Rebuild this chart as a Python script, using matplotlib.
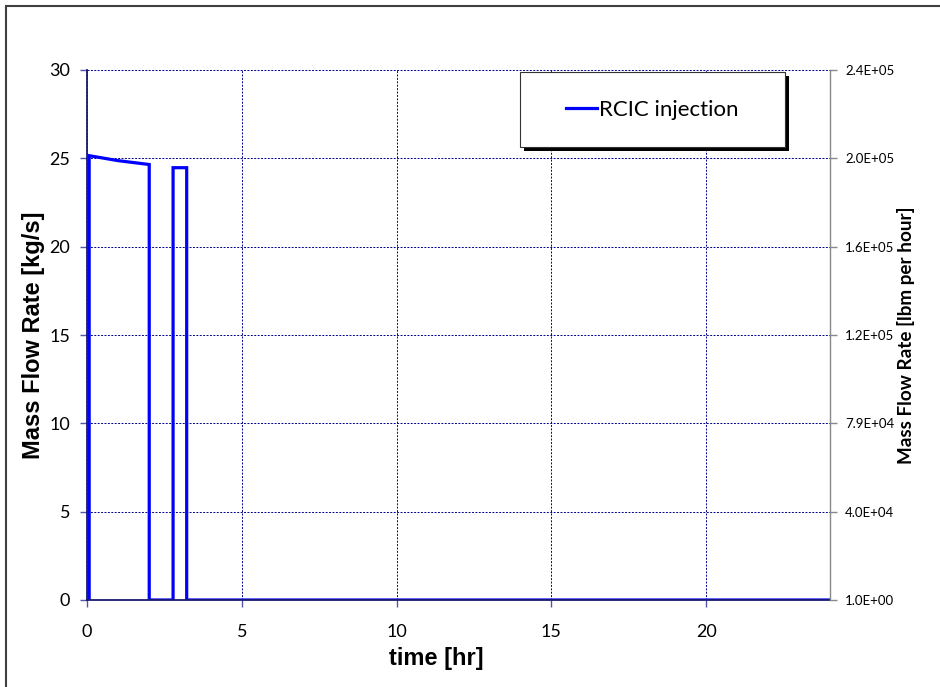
import matplotlib
matplotlib.use("Agg")
import matplotlib.pyplot as plt
from matplotlib.patches import Rectangle

plt.rcParams['font.family'] = ['Lato', 'DejaVu Sans']

# RCIC injection flow history
time_hr = [0.0, 0.07, 0.07, 1.0, 2.01, 2.01, 2.78, 2.78, 3.22, 3.22, 24.0]
flow_kgs = [0.0, 0.0, 25.15, 24.87, 24.65, 0.0, 0.0, 24.47, 24.47, 0.0, 0.0]

x_ticks = [0, 5, 10, 15, 20]
y_ticks = [0, 5, 10, 15, 20, 25, 30]
right_tick_labels = ['1.0E+00', '4.0E+04', '7.9E+04', '1.2E+05',
                     '1.6E+05', '2.0E+05', '2.4E+05']

W, H = 940, 687
fig = plt.figure(figsize=(W / 100, H / 100), dpi=100)

# outer chart frame
fig.patches.append(Rectangle((6 / W, -0.1), 1.2, 1 - 6 / H + 0.1,
                             transform=fig.transFigure, fill=False,
                             edgecolor='#404040', linewidth=1.5))

ax = fig.add_axes([87 / W, 1 - 600 / H, 743 / W, 530 / H])
ax.plot(time_hr, flow_kgs, color='#0000ff', linewidth=2.3,
        label='RCIC injection', solid_joinstyle='miter')

ax.set_xlim(0, 24)
ax.set_ylim(0, 30)
ax.set_xticks(x_ticks)
ax.set_yticks(y_ticks)
ax.grid(True, color='#00008b', linestyle=(0, (2, 1.5)), linewidth=0.7)
ax.set_axisbelow(True)

for s in ['top', 'right']:
    ax.spines[s].set_visible(False)
for s in ['left', 'bottom']:
    ax.spines[s].set_color('#1a1a6e')
    ax.spines[s].set_linewidth(1.3)

ax.tick_params(axis='both', direction='out', length=5, width=1,
               color='#5555aa', labelsize=13, labelcolor='black')
ax.tick_params(axis='y', pad=7)
ax.tick_params(axis='x', pad=12)
ax.set_xlabel('time [hr]', fontsize=17, fontweight='bold',
              family=['Liberation Sans', 'DejaVu Sans'])
ax.xaxis.set_label_coords(0.47, -(647 - 600) / 530)
ax.set_ylabel('Mass Flow Rate [kg/s]', fontsize=17, fontweight='bold',
              labelpad=3.5, family=['Liberation Sans', 'DejaVu Sans'])

# secondary axis in lbm per hour
ax2 = ax.twinx()
ax2.set_ylim(0, 30)
ax2.set_yticks(y_ticks)
ax2.set_yticklabels(right_tick_labels)
for s in ['top', 'left', 'bottom']:
    ax2.spines[s].set_visible(False)
ax2.spines['right'].set_color('#888888')
ax2.spines['right'].set_linewidth(1.0)
ax2.tick_params(axis='y', direction='out', length=5, width=1,
                color='#888888', labelsize=9.5, pad=6)
ax2.set_ylabel('Mass Flow Rate [lbm per hour]', fontsize=13.6,
               fontweight='bold', labelpad=2)

# legend box with drop shadow
bx0 = (520 - 87) / 743
bw = (785 - 520) / 743
by1 = (600 - 72) / 530
bh = (147 - 72) / 530
dx, dy = 4 / 743, 4 / 530
ax2.add_patch(Rectangle((bx0 + dx, by1 - bh - dy), bw, bh,
                        transform=ax.transAxes, facecolor='black',
                        edgecolor='none', zorder=5, clip_on=False))
ax2.add_patch(Rectangle((bx0, by1 - bh), bw, bh, transform=ax.transAxes,
                        facecolor='white', edgecolor='#333333',
                        linewidth=0.8, zorder=6, clip_on=False))
leg = ax2.legend(*ax.get_legend_handles_labels(), loc='center',
                 bbox_to_anchor=(bx0 + bw / 2, by1 - bh / 2),
                 bbox_transform=ax.transAxes, frameon=False, fontsize=16,
                 handlelength=1.4, handletextpad=0.1)
leg.set_zorder(7)

fig.savefig('out.png', dpi=100)
